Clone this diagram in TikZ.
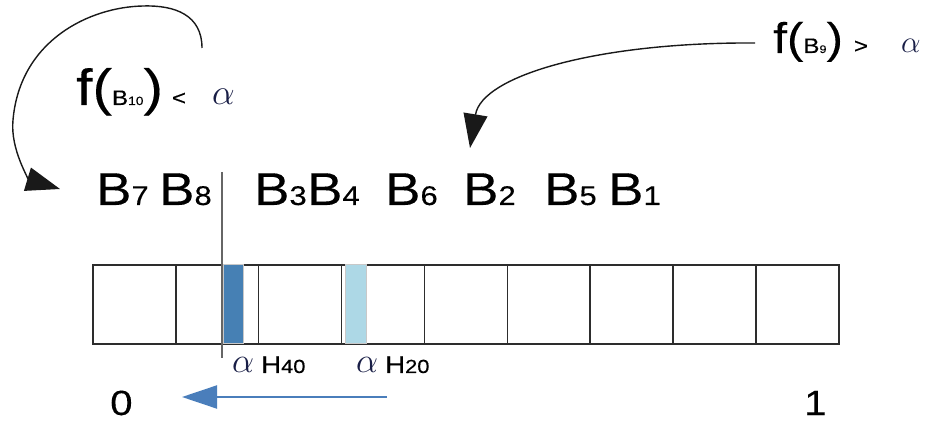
\RequirePackage{fix-cm}
\documentclass[tikz,border=0pt]{standalone}
\usepackage{fontspec}
\setmainfont{Liberation Sans}[FakeStretch=1.15, FakeBold=0.25]
\usetikzlibrary{arrows.meta}

\definecolor{alfa}{RGB}{25,30,70}
\definecolor{linea}{RGB}{45,45,45}
\definecolor{azul}{RGB}{74,126,187}
\definecolor{oscuro}{RGB}{70,128,180}
\definecolor{claro}{RGB}{173,216,230}
\definecolor{borde}{RGB}{200,200,200}

\newcommand{\fs}[1]{\fontsize{#1}{#1}\selectfont}
\newcommand{\bkt}[1]{B{\fs{27}#1}}
\newcommand{\alfa}[1]{{\fs{#1}\color{alfa}$\alpha$}}

\tikzset{
    blabel/.style={anchor=base west, inner sep=0pt, font=\fs{46}},
    tlabel/.style={anchor=base west, inner sep=0pt},
    celda/.style={draw=linea, line width=1.6pt, minimum width=82.9pt, minimum height=79pt, anchor=north west, inner sep=0pt},
    curva/.style={draw=black!90, line width=1.4pt, -{Triangle[length=34pt,width=24pt]}},
}

\begin{document}
\begin{tikzpicture}[x=1pt, y=-1pt]
    \useasboundingbox (0,0) rectangle (930,422);

    % fila de cubetas
    \node[blabel] (b7) at (96,205) {\bkt{7}};
    \node[blabel] (b8) at (159,205) {\bkt{8}};
    \node[blabel] (b3) at (254,205) {\bkt{3}};
    \node[blabel] (b4) at (307,205) {\bkt{4}};
    \node[blabel] (b6) at (385,205) {\bkt{6}};
    \node[blabel] (b2) at (463,205) {\bkt{2}};
    \node[blabel] (b5) at (544,205) {\bkt{5}};
    \node[blabel] (b1) at (608,205) {\bkt{1}};

    % tabla de 9 celdas
    \foreach \i in {0,...,8}
        \node[celda] (c\i) at ({92+82.9*\i},264) {};
    \filldraw[fill=oscuro, draw=borde, line width=0.8pt] (223,264) rectangle (243,343);
    \filldraw[fill=claro, draw=borde, line width=0.8pt] (345,264) rectangle (366,343);
    \draw[black!60, line width=1.5pt] (222,172) -- (222,358);

    \node[tlabel] (h40) at (232,373) {\alfa{35}\hspace{7pt}{\fs{24}H{\fs{19}40}}};
    \node[tlabel] (h20) at (356,373) {\alfa{35}\hspace{7pt}{\fs{24}H{\fs{19}20}}};

    \node[tlabel, font=\fs{35}] (cero) at (110,415) {0};
    \node[tlabel, font=\fs{35}] (uno) at (804,415) {1};

    % etiquetas f(B)
    \node[tlabel] (fb10) at (76,105)
        {{\fs{51}f(}{\fs{21}B{\fs{12}10}}{\fs{51})}\hspace{9pt}{\fs{21}<}\hspace{26pt}\alfa{36}};
    \node[tlabel] (fb9) at (773,53)
        {{\fs{43}f(}{\fs{21}B{\fs{11}9}}{\fs{43})}\hspace{11pt}{\fs{21}>}\hspace{33pt}\alfa{31}};

    \coordinate (p10) at (202,48);
    \coordinate (q10) at (60,189);
    \coordinate (p9) at (755,43);
    \coordinate (q9) at (470,148);
    \coordinate (p0) at (387,397);
    \coordinate (q0) at (182,397);

    \draw[curva] (p10) .. controls (202,15) and (175,5) .. (143,6)
        .. controls (90,7) and (20,40) .. (13,120)
        .. controls (10,150) and (30,180) .. (q10);
    \draw[curva] (p9) .. controls (600,42) and (482,75) .. (q9);
    \draw[azul, line width=2pt, -{Triangle[length=35pt,width=23pt]}] (p0) -- (q0);  % flecha hacia 0
\end{tikzpicture}
\end{document}
